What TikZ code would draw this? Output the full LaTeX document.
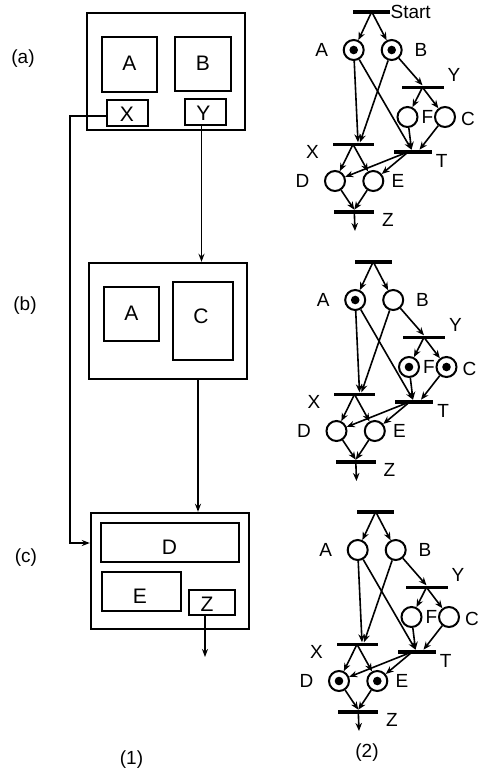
\documentclass[tikz,border=0pt]{standalone}
\usepackage{fontspec}
\setmainfont{Liberation Sans}
\usetikzlibrary{arrows.meta,calc}

\tikzset{
  outerbox/.style={draw,line width=2.4pt,inner sep=0pt},
  innerbox/.style={draw,line width=2.2pt,inner sep=0pt},
  boxtext/.style={inner sep=0pt,font=\fontsize{21}{23}\selectfont},
  conn/.style={line width=1.4pt,-{Stealth[length=8pt,width=6pt]}},
  place/.style={circle,draw,line width=2pt,minimum size=20pt,inner sep=0pt},
  bar/.style={rectangle,fill=black,minimum height=3.6pt,inner sep=0pt},
  arc/.style={line width=1.6pt,-{Stealth[length=8pt,width=6.5pt]}},
  netlbl/.style={inner sep=0pt,font=\fontsize{19}{21}\selectfont},
  sidelbl/.style={inner sep=0pt,font=\fontsize{19}{21}\selectfont},
}

% One marked Petri net: #1 name suffix, #2/#3 shift, #4 marked places
\newcommand\petrinet[4]{%
\begin{scope}[shift={(#2,#3)}]
  \node[bar,minimum width=37pt] (S#1) at (371.7,11.7) {};
  \node[place] (A#1) at (353.7,50) {};
  \node[place] (B#1) at (391.7,50) {};
  \node[bar,minimum width=42pt] (Y#1) at (422.5,87.3) {};
  \node[place] (F#1) at (407.5,117) {};
  \node[place] (C#1) at (445,117) {};
  \node[bar,minimum width=41pt] (X#1) at (353,144.3) {};
  \node[bar,minimum width=38pt] (T#1) at (412.5,151.7) {};
  \node[place] (D#1) at (335,181) {};
  \node[place] (E#1) at (373.3,181) {};
  \node[bar,minimum width=40pt] (Z#1) at (354.3,211.7) {};
  \coordinate (O#1) at (355,231);
  % labels
  \node[netlbl] (lA#1) at (321.7,50) {A};
  \node[netlbl] (lB#1) at (421,50) {B};
  \node[netlbl] (lY#1) at (454,75) {Y};
  \node[netlbl] (lF#1) at (427.5,117) {F};
  \node[netlbl] (lC#1) at (468,119) {C};
  \node[netlbl] (lX#1) at (312.5,152) {X};
  \node[netlbl] (lT#1) at (441.7,161) {T};
  \node[netlbl] (lD#1) at (302.5,181) {D};
  \node[netlbl] (lE#1) at (398,181) {E};
  \node[netlbl] (lZ#1) at (388,220) {Z};
  % arcs
  \draw[arc] (S#1.center) -- (A#1);
  \draw[arc] (S#1.center) -- (B#1);
  \draw[arc] (A#1) -- ([xshift=5pt]X#1.north);
  \draw[arc] (B#1) -- ([xshift=7pt]X#1.north);
  \draw[arc] (A#1) -- ([xshift=-1pt]T#1.north);
  \draw[arc] (B#1) -- (Y#1.north);
  \draw[arc] (Y#1.center) -- (F#1);
  \draw[arc] (Y#1.center) -- (C#1);
  \draw[arc] (F#1) -- ([xshift=-1pt]T#1.north);
  \draw[arc] (C#1) -- ([xshift=7pt]T#1.north);
  \draw[arc] (X#1.center) -- (D#1);
  \draw[arc] (X#1.center) -- (E#1);
  \draw[arc] ([xshift=-4pt]T#1.center) -- (D#1);
  \draw[arc] ([xshift=-4pt]T#1.center) -- (E#1);
  \draw[arc] (D#1) -- (Z#1.north);
  \draw[arc] (E#1) -- (Z#1.north);
  \draw[arc] (Z#1.center) -- (O#1);
  % tokens
  \foreach \p in {#4} {\fill (\p#1) circle (4.3pt);}
\end{scope}}

\begin{document}
\begin{tikzpicture}[x=1pt,y=-1pt]
  \useasboundingbox (0,0) rectangle (485,772);

  % ---- column (1): block structure ----
  \node[outerbox,minimum width=158pt,minimum height=117pt] (boxa) at (166,71.5) {};
  \node[innerbox,minimum width=55pt,minimum height=55pt] (A1) at (129.5,64.5) {};
  \node[boxtext] (tA1) at (129.5,63) {A};
  \node[innerbox,minimum width=56pt,minimum height=54pt] (B1) at (203,64) {};
  \node[boxtext] (tB1) at (203,63) {B};
  \node[innerbox,minimum width=41pt,minimum height=26pt] (X1) at (127.5,113) {};
  \node[boxtext] (tX1) at (127,114) {X};
  \node[innerbox,minimum width=41pt,minimum height=26pt] (Y1) at (205.5,112) {};
  \node[boxtext] (tY1) at (203.5,113) {Y};

  \node[outerbox,minimum width=158pt,minimum height=116pt] (boxb) at (168,321) {};
  \node[innerbox,minimum width=55pt,minimum height=54pt] (A2) at (131.5,314) {};
  \node[boxtext] (tA2) at (131.5,313) {A};
  \node[innerbox,minimum width=60pt,minimum height=78pt] (C2) at (203,321) {};
  \node[boxtext] (tC2) at (201,316) {C};

  \node[outerbox,minimum width=158pt,minimum height=116pt] (boxc) at (170,571) {};
  \node[innerbox,minimum width=138pt,minimum height=39pt] (D3) at (170,542.5) {};
  \node[boxtext] (tD3) at (169.5,547) {D};
  \node[innerbox,minimum width=79pt,minimum height=39pt] (E3) at (141.5,591.5) {};
  \node[boxtext] (tE3) at (140,596) {E};
  \node[innerbox,minimum width=46pt,minimum height=25pt] (Z3) at (212,602.5) {};
  \node[boxtext] (tZ3) at (207,604) {Z};

  % connectors between the blocks
  \coordinate (xtop) at (70,116);
  \coordinate (xbot) at (70,543);
  \draw[conn] (X1.west |- xtop) -- (xtop) -- (xbot) -- (boxc.west |- xbot);
  \coordinate (yout) at ([xshift=-4pt]Y1.south);
  \draw[conn] (yout) -- (yout |- boxb.north);
  \coordinate (bout) at ([xshift=30pt]boxb.south);
  \draw[conn] (bout) -- (bout |- boxc.north);
  \coordinate (zout) at ([xshift=-7pt]Z3.south);
  \coordinate (zend) at (205,657);
  \draw[conn] (zout) -- (zend);

  % ---- column (2): Petri nets ----
  \petrinet{a}{0}{0}{A,B}
  \node[netlbl,anchor=west] (startlbl) at (Sa.east) {Start};
  \petrinet{b}{1.5}{250}{A,F,C}
  \petrinet{c}{4}{500}{D,E}

  % ---- captions ----
  \node[sidelbl] (capa) at (23,59) {(a)};
  \node[sidelbl] (capb) at (25,306) {(b)};
  \node[sidelbl] (capc) at (26,558) {(c)};
  \node[sidelbl] (cap1) at (131.5,760) {(1)};
  \node[sidelbl] (cap2) at (367,753) {(2)};
\end{tikzpicture}
\end{document}
